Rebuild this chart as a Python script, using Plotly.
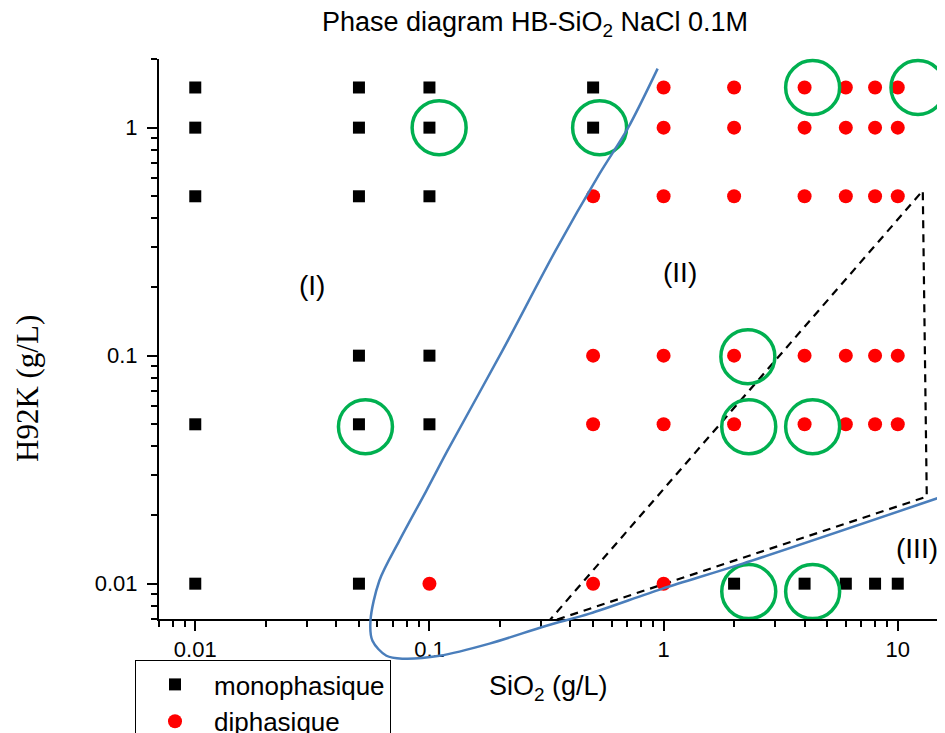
import math
import plotly.graph_objects as go

# ---------------- data ----------------
title_text = "Phase diagram HB-SiO<sub>2</sub> NaCl 0.1M"
x_title = "SiO<sub>2</sub> (g/L)"
y_title = "H92K (g/L)"

x_tickvals = [0.01, 0.1, 1, 10]
x_ticktext = ["0.01", "0.1", "1", "10"]
y_tickvals = [0.01, 0.1, 1]
y_ticktext = ["0.01", "0.1", "1"]
x_limits = [0.007, 15]
y_limits = [0.007, 2]

mono_x = [0.01, 0.01, 0.01, 0.01, 0.01,
          0.05, 0.05, 0.05, 0.05, 0.05, 0.05,
          0.1, 0.1, 0.1, 0.1, 0.1,
          0.5, 0.5,
          2, 4, 6, 8, 10]
mono_y = [1.5, 1, 0.5, 0.05, 0.01,
          1.5, 1, 0.5, 0.1, 0.05, 0.01,
          1.5, 1, 0.5, 0.1, 0.05,
          1.5, 1,
          0.01, 0.01, 0.01, 0.01, 0.01]

di_x = [0.1,
        0.5, 0.5, 0.5, 0.5,
        1, 1, 1, 1, 1, 1,
        2, 2, 2, 2, 2,
        4, 4, 4, 4, 4,
        6, 6, 6, 6, 6,
        8, 8, 8, 8, 8,
        10, 10, 10, 10, 10]
di_y = [0.01,
        0.5, 0.1, 0.05, 0.01,
        1.5, 1, 0.5, 0.1, 0.05, 0.01,
        1.5, 1, 0.5, 0.1, 0.05,
        1.5, 1, 0.5, 0.1, 0.05,
        1.5, 1, 0.5, 0.1, 0.05,
        1.5, 1, 0.5, 0.1, 0.05,
        1.5, 1, 0.5, 0.1, 0.05]

# highlighted points (green rings)
ring_x = [0.110, 0.533, 4.33, 12.2, 2.29, 0.0533, 2.31, 4.33, 2.31, 4.33]
ring_y = [1.0, 1.0, 1.5, 1.5, 0.099, 0.0488, 0.0488, 0.0488, 0.00923, 0.00923]

# phase boundary (blue curve)
curve_x = [0.943, 0.702, 0.533, 0.3455, 0.205, 0.1194, 0.0971, 0.0744, 0.0611,
           0.0560, 0.0571, 0.0655, 0.0767, 0.1104, 0.1805, 0.316, 0.483, 0.990,
           2.176, 15.88]
curve_y = [1.815, 0.990, 0.628, 0.2888, 0.1052, 0.0383, 0.0256, 0.01544, 0.0103,
           0.00688, 0.00562, 0.00483, 0.00469, 0.00483, 0.00546, 0.00654, 0.00739,
           0.00951, 0.01224, 0.0243]

# dashed region (III) outline
dash_x = [0.3193, 12.79, 13.30, 0.3193]
dash_y = [0.00674, 0.5294, 0.02408, 0.00674]

region_labels = ["(I)", "(II)", "(III)"]
region_x = [0.0316, 1.17, 12.06]
region_y = [0.2028, 0.231, 0.01424]

legend_names = ["monophasique", "diphasique"]

# ---------------- layout geometry ----------------
# the page body has an 8px default margin; figure coords = page coords - OFF
OFF = 8
W, H = 945 - OFF, 733 - OFF
ML, MR, MT, MB = 159 - OFF, 0, 59 - OFF, 40
PW, PH = W - ML - MR, H - MT - MB


def px_x(p):
    return (p - OFF - ML) / PW


def px_y(p):
    return (H - MB - (p - OFF)) / PH


x_dom_right = px_x(939)
y_dom_bottom = px_y(619)

xlo, xhi = math.log10(x_limits[0]), math.log10(x_limits[1])
ylo, yhi = math.log10(y_limits[0]), math.log10(y_limits[1])
kx = x_dom_right * PW / (xhi - xlo)
ky = (1 - y_dom_bottom) * PH / (yhi - ylo)
x2_range = [xlo, xlo + PW / kx]
y2_range = [yhi - PH / ky, yhi]

minor_x = [m * 10 ** d for d in (-3, -2, -1, 0) for m in range(2, 10)
           if x_limits[0] <= m * 10 ** d <= x_limits[1]]
minor_y = [m * 10 ** d for d in (-3, -2, -1, 0) for m in range(2, 10)
           if y_limits[0] <= m * 10 ** d <= y_limits[1]]

FONT = "Liberation Sans, Arial, sans-serif"

fig = go.Figure()

fig.add_trace(go.Scatter(
    x=dash_x, y=dash_y, mode="lines", showlegend=False, hoverinfo="skip",
    line=dict(color="black", width=2.2, dash="8px,6px"),
    xaxis="x", yaxis="y"))

fig.add_trace(go.Scatter(
    x=mono_x, y=mono_y, mode="markers", name=legend_names[0],
    marker=dict(symbol="square", size=12, color="black"),
    xaxis="x", yaxis="y", cliponaxis=False))

fig.add_trace(go.Scatter(
    x=di_x, y=di_y, mode="markers", name=legend_names[1],
    marker=dict(symbol="circle", size=14, color="#FF0000"),
    xaxis="x", yaxis="y", cliponaxis=False))

fig.add_trace(go.Scatter(
    x=ring_x, y=ring_y, mode="markers", showlegend=False, hoverinfo="skip",
    marker=dict(symbol="circle-open", size=54, color="#00B050",
                line=dict(width=3.5, color="#00B050")),
    xaxis="x", yaxis="y", cliponaxis=False))

fig.add_trace(go.Scatter(
    x=curve_x, y=curve_y, mode="lines", showlegend=False, hoverinfo="skip",
    line=dict(color="#4A7EBB", width=2.5, shape="spline", smoothing=0.9),
    xaxis="x2", yaxis="y2"))

axis_common = dict(
    type="log", showline=True, linecolor="black", linewidth=2,
    ticks="outside", ticklen=10, tickwidth=2, tickcolor="black",
    showgrid=False, zeroline=False,
    tickfont=dict(family=FONT, size=22, color="black"),
)

fig.update_layout(
    width=W, height=H,
    margin=dict(l=ML, r=MR, t=MT, b=MB, autoexpand=False),
    paper_bgcolor="white", plot_bgcolor="rgba(0,0,0,0)",
    font=dict(family=FONT, color="black"),
    title=dict(text=title_text, x=(535 - OFF) / W, xanchor="center",
               y=1 - (22 - OFF) / H, yanchor="middle",
               font=dict(family=FONT, size=27, color="black")),
    xaxis=dict(axis_common, domain=[0, x_dom_right], range=[xlo, xhi],
               anchor="y", tickmode="array", tickvals=x_tickvals, ticktext=x_ticktext,
               ticklabelstandoff=0,
               minor=dict(ticks="outside", ticklen=6, tickwidth=2, tickcolor="black",
                          tickmode="array", tickvals=minor_x, showgrid=False)),
    yaxis=dict(axis_common, domain=[y_dom_bottom, 1], range=[ylo, yhi],
               anchor="x", tickmode="array", tickvals=y_tickvals, ticktext=y_ticktext,
               ticklabelstandoff=5,
               minor=dict(ticks="outside", ticklen=6, tickwidth=2, tickcolor="black",
                          tickmode="array", tickvals=minor_y, showgrid=False)),
    xaxis2=dict(type="log", domain=[0, 1], range=x2_range, anchor="y2", visible=False),
    yaxis2=dict(type="log", domain=[0, 1], range=y2_range, anchor="x2", visible=False),
    legend=dict(x=px_x(135), y=px_y(660), xanchor="left", yanchor="top",
                bgcolor="white", bordercolor="black", borderwidth=1,
                font=dict(family=FONT, size=26, color="black"),
                itemwidth=68, tracegroupgap=0),
    showlegend=True,
)

annotations = []
for t, ax_, ay_ in zip(region_labels, region_x, region_y):
    annotations.append(dict(text=t, x=math.log10(ax_), y=math.log10(ay_),
                            xref="x", yref="y", showarrow=False,
                            font=dict(family=FONT, size=28, color="black")))
annotations.append(dict(text=x_title, x=px_x(548), y=px_y(688),
                        xref="paper", yref="paper", showarrow=False,
                        xanchor="center", yanchor="middle",
                        font=dict(family=FONT, size=27, color="black")))
annotations.append(dict(text=y_title, x=px_x(27), y=px_y(389),
                        xref="paper", yref="paper", showarrow=False, textangle=-90,
                        xanchor="center", yanchor="middle",
                        font=dict(family="Liberation Serif, Times New Roman, serif",
                                  size=31, color="black")))
fig.update_layout(annotations=annotations)

fig.write_html("out.html")
